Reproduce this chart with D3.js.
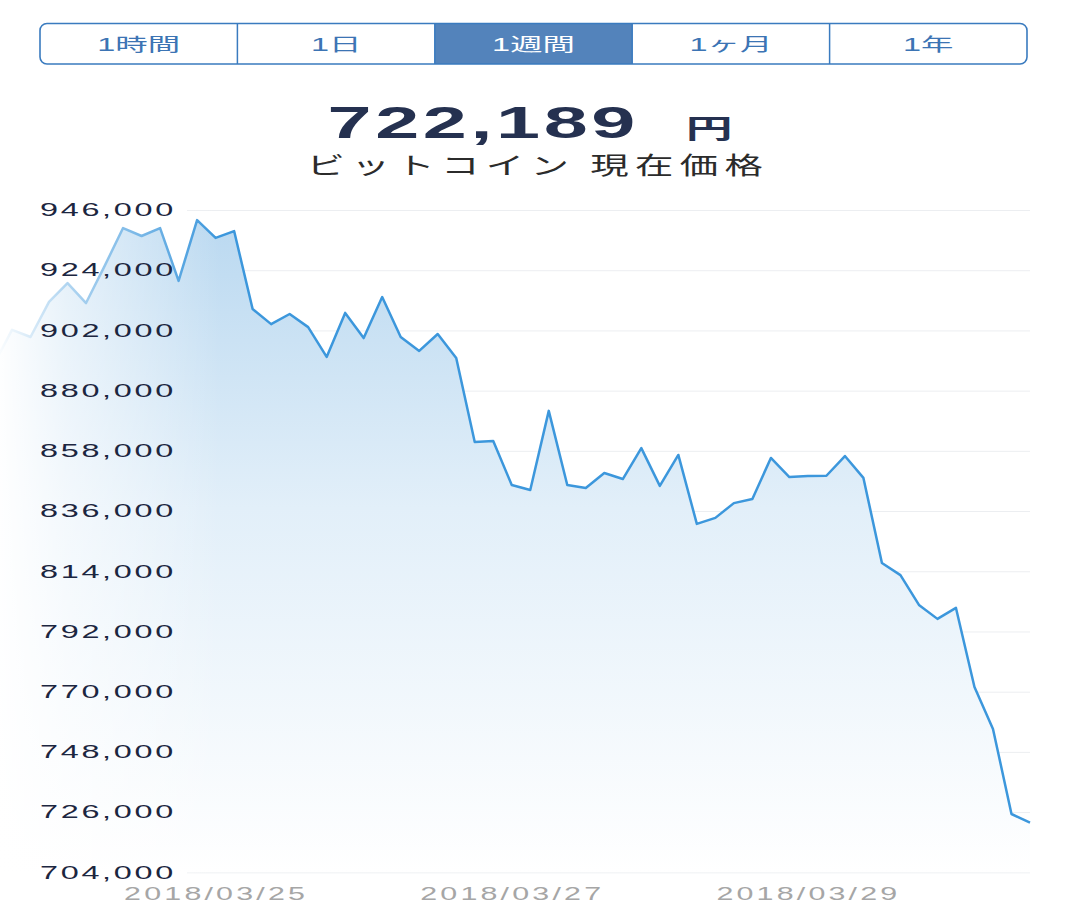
<!DOCTYPE html>
<html>
<head>
<meta charset="utf-8">
<script src="https://cdn.jsdelivr.net/npm/d3@7"></script>
<style>
  body { margin: 0; background: #fff; }
  svg { display: block; }
</style>
</head>
<body>
<div id="chart"></div>
<script>
// period buttons
const periods = ["1時間", "1日", "1週間", "1ヶ月", "1年"];
const activePeriod = "1週間";

// one price every 3 hours, starting 2018/03/23 12:00
const firstTime = Date.UTC(2018, 2, 23, 12);
const stepHours = 3;
const prices = [
  889400, 902200, 899600, 912400, 919300, 912000, 925500, 939400, 936500, 939400,
  920100, 942300, 935800, 938300, 909800, 904300, 908000, 903200, 892300, 908400,
  899200, 914200, 899600, 894500, 900700, 891900, 861200, 861600, 845500, 843700,
  872600, 845500, 844400, 849900, 847700, 859000, 845200, 856500, 831300, 833500,
  838900, 840400, 855400, 848400, 848800, 848900, 856100, 848100, 817000, 812600,
  801700, 796600, 800600, 771700, 756400, 725300, 722189
];

const yTicks = [704000, 726000, 748000, 770000, 792000, 814000, 836000, 858000, 880000, 902000, 924000, 946000];
const xTicks = [Date.UTC(2018, 2, 25), Date.UTC(2018, 2, 27), Date.UTC(2018, 2, 29)];
const subtitle = "ビットコイン 現在価格";
const unit = "円";

const width = 1076, height = 914;
const blue = "#3a7bbf", activeFill = "#5383bb";

let svg = d3.select("#chart").append("svg")
    .attr("width", width)
    .attr("height", height);

let data = prices.map(function(p, i) {
    return { t: new Date(firstTime + i * stepHours * 3600 * 1000), v: p };
});

let x = d3.scaleTime()
    .domain(d3.extent(data, function(d) { return d.t; }))
    .range([-6.5, 1030]);

let y = d3.scaleLinear()
    .domain([704000, 946000])
    .range([872.3, 210]);

// stretch text horizontally around its own origin
function wide(sel, k) {
    sel.each(function() {
        let t = d3.select(this);
        let tx = +t.attr("x") || 0, ty = +t.attr("y") || 0;
        t.attr("x", 0).attr("y", 0)
         .attr("transform", "translate(" + tx + "," + ty + ") scale(" + k + ",1)");
    });
}

let defs = svg.append("defs");

let areaGrad = defs.append("linearGradient")
    .attr("id", "areaGrad")
    .attr("gradientUnits", "userSpaceOnUse")
    .attr("x1", 0).attr("y1", y(946000))
    .attr("x2", 0).attr("y2", y(704000));
areaGrad.append("stop").attr("offset", 0).attr("stop-color", "#b9d8f0");
areaGrad.append("stop").attr("offset", 0.45).attr("stop-color", "#e2eff9");
areaGrad.append("stop").attr("offset", 1).attr("stop-color", "#ffffff");

let fade = defs.append("linearGradient")
    .attr("id", "fade")
    .attr("x1", 0).attr("y1", 0).attr("x2", 1).attr("y2", 0);
fade.append("stop").attr("offset", 0).attr("stop-color", "#fff").attr("stop-opacity", 0.97);
fade.append("stop").attr("offset", 0.3).attr("stop-color", "#fff").attr("stop-opacity", 0.6);
fade.append("stop").attr("offset", 1).attr("stop-color", "#fff").attr("stop-opacity", 0);

// ---- buttons
let band = d3.scaleBand().domain(periods).range([40, 1027]);
let btn = svg.append("g");

btn.append("rect")
    .attr("x", 40).attr("y", 23.5)
    .attr("width", 987).attr("height", 40.5)
    .attr("rx", 7)
    .attr("fill", "#fff");

btn.append("rect")
    .attr("x", band(activePeriod)).attr("y", 23.5)
    .attr("width", band.bandwidth()).attr("height", 40.5)
    .attr("fill", activeFill);

btn.selectAll("line.div")
    .data(periods.slice(1))
    .enter().append("line")
    .attr("class", "div")
    .attr("x1", function(d) { return band(d); })
    .attr("x2", function(d) { return band(d); })
    .attr("y1", 23.5).attr("y2", 64)
    .attr("stroke", blue).attr("stroke-width", 1.5);

btn.append("rect")
    .attr("x", 40).attr("y", 23.5)
    .attr("width", 987).attr("height", 40.5)
    .attr("rx", 7)
    .attr("fill", "none")
    .attr("stroke", blue).attr("stroke-width", 1.6);

btn.selectAll("text")
    .data(periods)
    .enter().append("text")
    .attr("x", function(d) { return band(d) + band.bandwidth() / 2; })
    .attr("y", 50.5)
    .attr("text-anchor", "middle")
    .style("font-family", "'Liberation Sans', 'Noto Sans CJK JP', sans-serif")
    .style("font-size", "18px")
    .attr("fill", function(d) { return d == activePeriod ? "#fff" : "#3c74b4"; })
    .text(function(d) { return d; })
    .call(wide, 1.8);

// ---- title
let current = prices[prices.length - 1];
let titleText = svg.append("text")
    .attr("x", 530).attr("y", 138)
    .attr("text-anchor", "middle")
    .attr("fill", "#253150");
titleText.append("tspan")
    .style("font-family", "'Liberation Sans', Arial, sans-serif")
    .style("font-weight", "bold")
    .style("font-size", "44px")
    .style("letter-spacing", "2px")
    .text(d3.format(",")(current));
titleText.append("tspan")
    .attr("dx", 26)
    .style("font-family", "'Noto Sans CJK JP', sans-serif")
    .style("font-weight", "bold")
    .style("font-size", "26px")
    .text(unit);
titleText.call(wide, 1.8);

svg.append("text")
    .attr("x", 538).attr("y", 174)
    .attr("text-anchor", "middle")
    .attr("fill", "#2b2b2b")
    .style("font-family", "'Noto Sans CJK JP', sans-serif")
    .style("font-size", "24px")
    .style("letter-spacing", "4px")
    .text(subtitle)
    .call(wide, 1.6);

// ---- grid
let grid = svg.append("g")
    .attr("transform", "translate(1030,0)")
    .call(d3.axisLeft(y).tickValues(yTicks).tickSize(843).tickFormat(""));
grid.select(".domain").remove();
grid.selectAll("line").attr("stroke", "#eceef1").attr("stroke-width", 1);

// ---- area + line
let area = d3.area()
    .x(function(d) { return x(d.t); })
    .y0(y(704000))
    .y1(function(d) { return y(d.v); });

let line = d3.line()
    .x(function(d) { return x(d.t); })
    .y(function(d) { return y(d.v); });

svg.append("path")
    .datum(data)
    .attr("d", area)
    .attr("fill", "url(#areaGrad)");

svg.append("path")
    .datum(data)
    .attr("d", line)
    .attr("fill", "none")
    .attr("stroke", "#3c97dc")
    .attr("stroke-width", 2.5)
    .attr("stroke-linejoin", "round");

// left fade over the chart
svg.append("rect")
    .attr("x", 0).attr("y", 185)
    .attr("width", 220).attr("height", 700)
    .attr("fill", "url(#fade)");

// ---- y labels
let yAxis = svg.append("g")
    .attr("transform", "translate(40,0)")
    .call(d3.axisRight(y).tickValues(yTicks).tickSize(0).tickPadding(0).tickFormat(d3.format(",")));
yAxis.select(".domain").remove();
yAxis.selectAll("text")
    .attr("text-anchor", "start")
    .attr("fill", "#1c2640")
    .style("font-family", "'Liberation Sans', Arial, sans-serif")
    .style("font-size", "18px")
    .style("letter-spacing", "1.5px")
    .call(wide, 1.8);

// ---- x labels
let xAxis = svg.append("g")
    .attr("transform", "translate(0,872)")
    .call(d3.axisBottom(x).tickValues(xTicks.map(function(d) { return new Date(d); }))
        .tickSize(0).tickPadding(15).tickFormat(d3.utcFormat("%Y/%m/%d")));
xAxis.select(".domain").remove();
xAxis.selectAll("text")
    .attr("fill", "#a6a6a6")
    .style("font-family", "'Liberation Sans', Arial, sans-serif")
    .style("font-size", "19px")
    .style("letter-spacing", "2px")
    .call(wide, 1.6);
</script>
</body>
</html>
